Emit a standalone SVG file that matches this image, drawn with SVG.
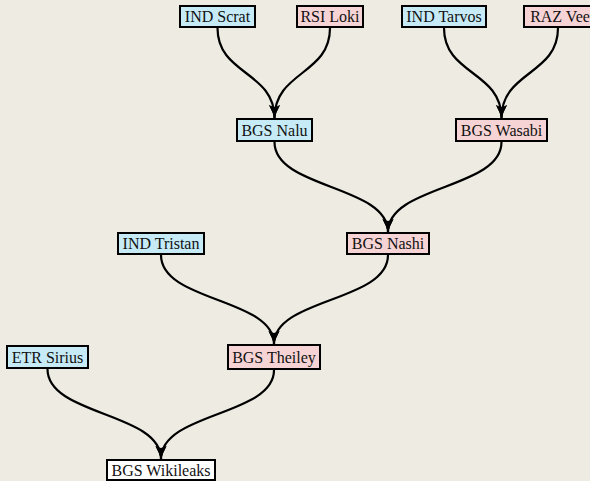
<svg xmlns="http://www.w3.org/2000/svg" width="590" height="481" viewBox="0 0 590 481">
<defs>
<marker id="arr" markerUnits="userSpaceOnUse" markerWidth="14" markerHeight="14" viewBox="0 0 14 14" refX="13" refY="7" orient="auto">
<path d="M0,1.5 Q7,5.2 13,7 Q7,8.8 0,12.5 Q4,7 0,1.5 Z" fill="#000"/>
</marker>
<style>
.bg{fill:#eeece2}
.box rect{stroke:#000;stroke-width:2}
.blue rect{fill:#c7ebf6}
.pink rect{fill:#f6d4d5}
.white rect{fill:#ffffff}
.box text{font-family:"Liberation Serif","Times New Roman",serif;font-size:16px;fill:#111;text-anchor:middle;dominant-baseline:central}
.edges path{fill:none;stroke:#000;stroke-width:2.2;marker-end:url(#arr)}
</style>
</defs>
<rect class="bg" x="0" y="0" width="590" height="481"/>
<g class="edges" id="edges">
<path d="M217.5,28 C217.5,75 274.5,71 274.5,118"/>
<path d="M330,28 C330,75 274.5,71 274.5,118"/>
<path d="M444,28 C444,75 501.5,71 501.5,118"/>
<path d="M558,28 C558,75 501.5,71 501.5,118"/>
<path d="M274.5,142 C274.5,189 388,185 388,232"/>
<path d="M501.5,142 C501.5,189 388,185 388,232"/>
<path d="M161,255 C161,302 274,298 274,344"/>
<path d="M388,255 C388,302 274,298 274,344"/>
<path d="M47.5,369 C47.5,416 161,412 161,459"/>
<path d="M274,370 C274,416 161,412 161,459"/>
</g>
<g id="n_scrat" class="box blue"><rect x="180" y="6" width="75" height="21"/><text x="217.5" y="16.5">IND Scrat</text></g>
<g id="n_loki" class="box pink"><rect x="297" y="6" width="66" height="21"/><text x="330" y="16.5">RSI Loki</text></g>
<g id="n_tarvos" class="box blue"><rect x="402" y="6" width="84" height="21"/><text x="444" y="16.5">IND Tarvos</text></g>
<g id="n_vee" class="box pink"><rect x="524" y="6" width="72" height="21"/><text x="560" y="16.5">RAZ Vee</text></g>
<g id="n_nalu" class="box blue"><rect x="237" y="119" width="75" height="22"/><text x="274.5" y="130">BGS Nalu</text></g>
<g id="n_wasabi" class="box pink"><rect x="456" y="119" width="91" height="22"/><text x="501.5" y="130">BGS Wasabi</text></g>
<g id="n_tristan" class="box blue"><rect x="118" y="233" width="86" height="21"/><text x="161" y="243.5">IND Tristan</text></g>
<g id="n_nashi" class="box pink"><rect x="347" y="233" width="82" height="21"/><text x="388" y="243.5">BGS Nashi</text></g>
<g id="n_sirius" class="box blue"><rect x="7" y="346" width="81" height="22"/><text x="47.5" y="357">ETR Sirius</text></g>
<g id="n_theiley" class="box pink"><rect x="228" y="345" width="92" height="24"/><text x="274" y="357">BGS Theiley</text></g>
<g id="n_wikileaks" class="box white"><rect x="107" y="460" width="108" height="20"/><text x="161" y="470">BGS Wikileaks</text></g>
</svg>
